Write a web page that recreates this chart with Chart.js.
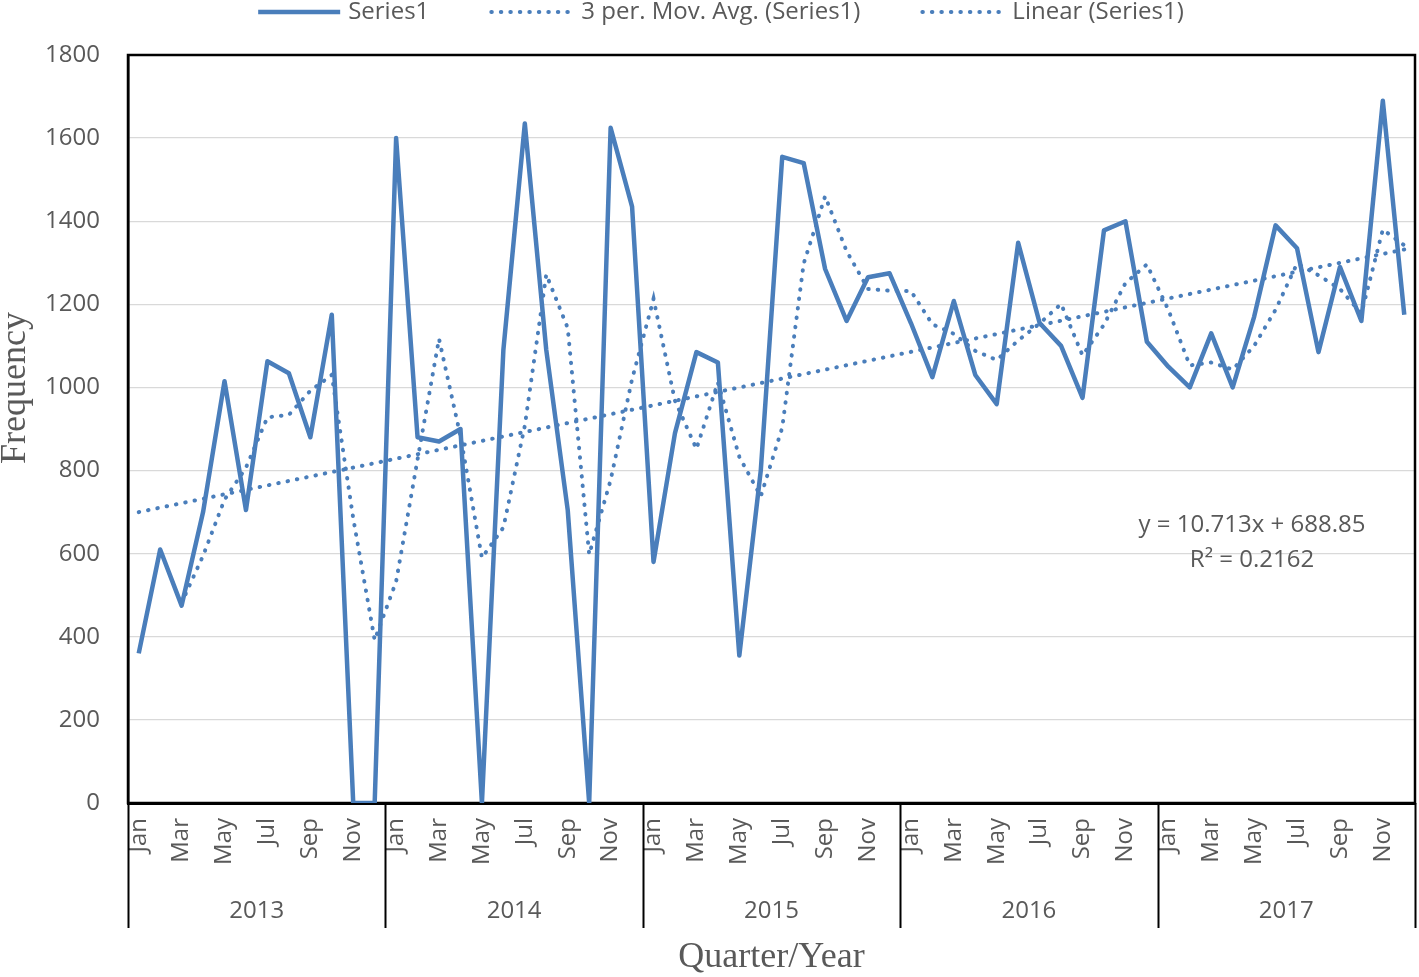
<!DOCTYPE html>
<html>
<head>
<meta charset="utf-8">
<script src="https://cdn.jsdelivr.net/npm/chart.js@4.4.1/dist/chart.umd.min.js"></script>
<style>
  html, body { margin: 0; padding: 0; background: #fff; }
</style>
</head>
<body>
<canvas id="chart" width="1419" height="977"></canvas>
<script>
const years = ['2013', '2014', '2015', '2016', '2017'];
const months = ['Jan', 'Feb', 'Mar', 'Apr', 'May', 'Jun', 'Jul', 'Aug', 'Sep', 'Oct', 'Nov', 'Dec'];
const yTicks = [0, 200, 400, 600, 800, 1000, 1200, 1400, 1600, 1800];

// monthly frequency, Jan 2013 .. Dec 2017
const series1 = [
  360, 610, 475, 700, 1015, 705, 1063, 1034, 880, 1175, 0, 0,
  1600, 880, 870, 900, 0, 1090, 1635, 1090, 705, 0, 1625, 1435,
  580, 890, 1085, 1060, 355, 800, 1555, 1540, 1285, 1160, 1265, 1275,
  1155, 1025, 1208, 1030, 960, 1348, 1155, 1100, 975, 1378, 1400, 1110,
  1050, 1000, 1130, 1000, 1170, 1390, 1335, 1085, 1290, 1160, 1690, 1175
];

// 3 period moving average (trailing)
const movAvg3 = [
  null, null, 482, 595, 730, 807, 928, 934, 992, 1030, 685, 392,
  533, 827, 1117, 883, 590, 663, 908, 1272, 1143, 598, 777, 1020,
  1213, 968, 852, 1012, 833, 738, 903, 1298, 1460, 1328, 1237, 1233,
  1232, 1152, 1129, 1088, 1066, 1113, 1154, 1201, 1077, 1151, 1251, 1296,
  1187, 1053, 1060, 1043, 1100, 1187, 1298, 1270, 1237, 1178, 1380, 1342
];

// linear trend: value at first and last month
const trendStart = 700;
const trendEnd = 1332;
const trendLabel = ['y = 10.713x + 688.85', 'R\u00b2 = 0.2162'];

const categories = years.flatMap(() => months);
const trendData = categories.map((_, i) =>
  i === 0 ? trendStart : (i === categories.length - 1 ? trendEnd : null));

const blue = '#4A7EBB';
const textGrey = '#595959';
const sans = '"Open Sans", "Liberation Sans", sans-serif';
const serif = '"Liberation Serif", "DejaVu Serif", serif';

const decor = {
  id: 'decor',
  beforeDatasetsDraw(chart) {
    const { ctx, chartArea: a } = chart;
    ctx.save();
    ctx.strokeStyle = '#000';
    ctx.lineWidth = 2.5;
    ctx.strokeRect(a.left, a.top, a.right - a.left, a.bottom - a.top);
    ctx.restore();
  },
  afterDraw(chart) {
    const { ctx, chartArea: a, scales: { x } } = chart;
    const step = (a.right - a.left) / categories.length;
    ctx.save();

    // year groups under the month labels
    ctx.strokeStyle = '#000';
    ctx.lineWidth = 2;
    for (let k = 0; k <= years.length; k++) {
      const px = Math.round(a.left + k * 12 * step) + 0.5;
      ctx.beginPath();
      ctx.moveTo(px, a.bottom);
      ctx.lineTo(px, a.bottom + 125);
      ctx.stroke();
    }
    ctx.fillStyle = textGrey;
    ctx.font = '24px ' + sans;
    ctx.textAlign = 'center';
    ctx.textBaseline = 'middle';
    years.forEach((yr, k) => {
      const cx = (x.getPixelForValue(k * 12) + x.getPixelForValue(k * 12 + 11)) / 2;
      ctx.fillText(yr, cx, a.bottom + 108);
    });

    // axis titles
    ctx.font = '36px ' + serif;
    ctx.fillText('Quarter/Year', (a.left + a.right) / 2, 958);
    ctx.save();
    ctx.translate(16, 388);
    ctx.rotate(-Math.PI / 2);
    ctx.fillText('Frequency', 0, 0);
    ctx.restore();

    // trendline equation
    ctx.font = '24px ' + sans;
    ctx.fillText(trendLabel[0], 1252, 525);
    ctx.fillText(trendLabel[1], 1252, 560);

    // legend
    ctx.font = '24px ' + sans;
    ctx.textAlign = 'left';
    const sample = 82, gapText = 8, gapItem = 62;
    const items = chart.data.datasets;
    const widths = items.map(d => sample + gapText + ctx.measureText(d.label).width);
    const total = widths.reduce((s, w) => s + w, 0) + gapItem * (items.length - 1);
    let lx = 721 - total / 2;
    const ly = 12;
    items.forEach((d, i) => {
      ctx.save();
      ctx.strokeStyle = d.borderColor;
      ctx.lineWidth = d.borderWidth;
      ctx.lineCap = d.borderCapStyle || 'butt';
      ctx.setLineDash(d.borderDash || []);
      ctx.beginPath();
      ctx.moveTo(lx, ly);
      ctx.lineTo(lx + sample, ly);
      ctx.stroke();
      ctx.restore();
      ctx.fillText(d.label, lx + sample + gapText, ly);
      lx += widths[i] + gapItem;
    });
    ctx.restore();
  }
};

new Chart(document.getElementById('chart'), {
  type: 'line',
  data: {
    labels: categories,
    datasets: [
      {
        label: 'Series1',
        data: series1,
        borderColor: blue,
        borderWidth: 4.5,
        borderJoinStyle: 'round',
        pointRadius: 0,
        tension: 0,
        order: 1
      },
      {
        label: '3 per. Mov. Avg. (Series1)',
        data: movAvg3,
        borderColor: blue,
        borderWidth: 4,
        borderDash: [0.5, 9],
        borderCapStyle: 'round',
        pointRadius: 0,
        tension: 0,
        order: 2
      },
      {
        label: 'Linear (Series1)',
        data: trendData,
        borderColor: blue,
        borderWidth: 4,
        borderDash: [0.5, 9],
        borderCapStyle: 'round',
        pointRadius: 0,
        spanGaps: true,
        order: 3
      }
    ]
  },
  options: {
    responsive: false,
    animation: false,
    events: [],
    layout: { padding: { top: 55, right: 4, left: 0, bottom: 0 } },
    plugins: {
      legend: { display: false },
      tooltip: { enabled: false }
    },
    scales: {
      x: {
        offset: true,
        grid: { display: false, drawTicks: false },
        border: { display: true, color: '#000', width: 3 },
        ticks: {
          autoSkip: false,
          maxRotation: 90,
          minRotation: 90,
          padding: 15,
          color: textGrey,
          font: { family: sans, size: 24 },
          callback: (v, i) => (i % 2 === 0 ? categories[i] : '')
        },
        afterFit: s => {
          s.height = 174;
          s.paddingLeft = 0;
          s.paddingRight = 0;
        }
      },
      y: {
        min: 0,
        max: 1800,
        afterBuildTicks: s => { s.ticks = yTicks.map(v => ({ value: v })); },
        grid: { color: '#d9d9d9', lineWidth: 1.3, drawTicks: false },
        border: { display: true, color: '#000', width: 2.5 },
        ticks: {
          padding: 28,
          color: textGrey,
          font: { family: sans, size: 24 },
          callback: v => String(v)
        },
        afterFit: s => { s.width = 128; }
      }
    }
  },
  plugins: [decor]
});
</script>
</body>
</html>
